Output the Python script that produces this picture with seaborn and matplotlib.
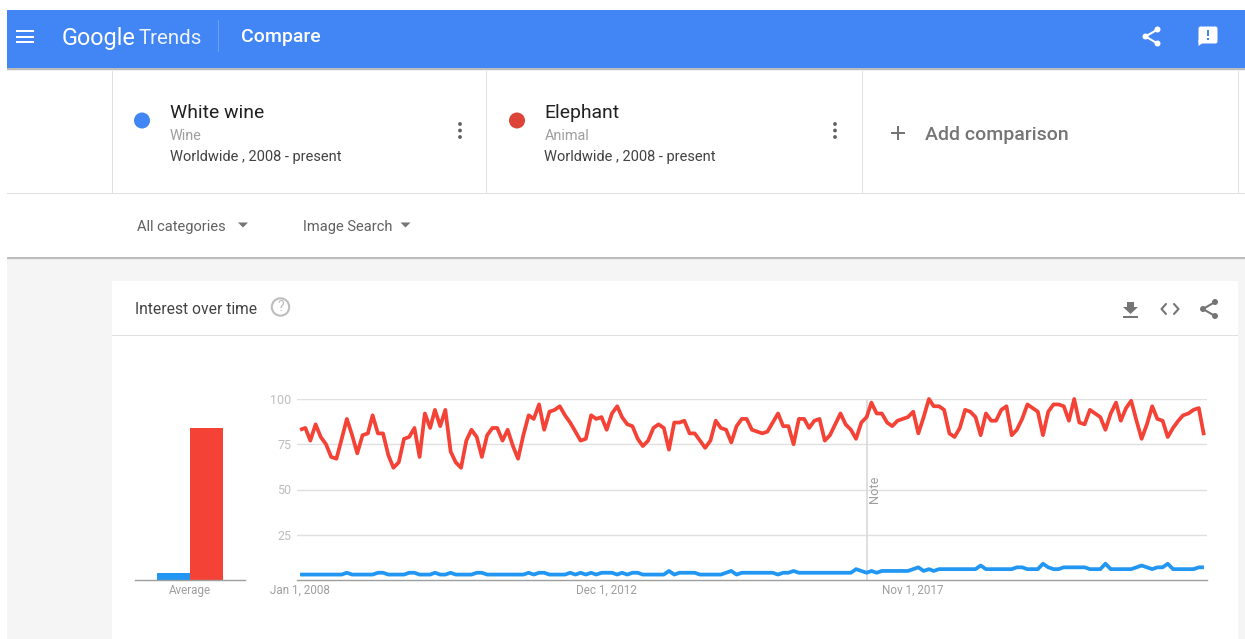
import pandas as pd
import matplotlib
matplotlib.use('Agg')
import matplotlib.pyplot as plt
import seaborn as sns
from matplotlib.patches import Circle, FancyBboxPatch, Polygon, Rectangle

TERMS = ['White wine', 'Elephant']
AVERAGES = [4, 84]
TICK_LABELS = ['Jan 1, 2008', 'Dec 1, 2012', 'Nov 1, 2017']
TICK_DATES = ['2008-01-01', '2012-12-01', '2017-11-01']
NOTE_DATE = '2017-02-01'

white_wine = [
    3, 3, 3, 3, 3, 3, 3, 3, 3, 4,
    3, 3, 3, 3, 3, 4, 4, 3, 3, 3,
    3, 4, 4, 3, 3, 3, 4, 3, 3, 4,
    3, 3, 3, 3, 4, 4, 3, 3, 3, 3,
    3, 3, 3, 3, 4, 3, 4, 4, 3, 3,
    3, 3, 4, 3, 4, 3, 4, 3, 4, 4,
    4, 3, 4, 3, 4, 4, 3, 3, 3, 3,
    3, 5, 3, 4, 4, 4, 4, 3, 3, 3,
    3, 3, 4, 5, 3, 4, 4, 4, 4, 4,
    4, 4, 3, 4, 4, 5, 4, 4, 4, 4,
    4, 4, 4, 4, 4, 4, 4, 6, 5, 4,
    5, 4, 5, 5, 5, 5, 5, 5, 6, 7,
    5, 6, 5, 6, 6, 6, 6, 6, 6, 6,
    6, 8, 6, 6, 6, 6, 6, 6, 7, 7,
    6, 6, 6, 9, 7, 6, 6, 7, 7, 7,
    7, 7, 6, 6, 6, 9, 6, 6, 6, 6,
    6, 7, 8, 7, 6, 7, 7, 9, 6, 6,
    6, 6, 6, 7, 7,
]
elephant = [
    83, 84, 77, 86, 79, 75, 68, 67, 78, 89,
    80, 70, 80, 81, 91, 81, 81, 69, 62, 65,
    78, 79, 84, 68, 92, 84, 94, 85, 94, 71,
    65, 62, 77, 83, 79, 68, 80, 84, 84, 77,
    83, 74, 67, 80, 91, 89, 97, 83, 93, 94,
    96, 91, 87, 82, 77, 78, 91, 89, 90, 83,
    92, 96, 90, 86, 85, 78, 74, 77, 84, 86,
    84, 72, 87, 87, 88, 81, 81, 77, 73, 77,
    88, 84, 83, 76, 85, 89, 89, 83, 82, 81,
    82, 87, 92, 85, 85, 75, 89, 89, 84, 88,
    89, 77, 80, 86, 92, 86, 83, 78, 87, 90,
    98, 92, 92, 87, 85, 88, 89, 90, 93, 81,
    90, 100, 96, 96, 94, 81, 79, 84, 94, 93,
    90, 80, 92, 88, 88, 94, 96, 80, 83, 89,
    97, 95, 93, 80, 93, 97, 97, 96, 88, 100,
    87, 86, 94, 92, 90, 83, 92, 98, 88, 95,
    99, 88, 78, 86, 96, 89, 88, 79, 84, 88,
    91, 92, 94, 95, 80,
]

W, H = 1245, 639
LINE_COLORS = {'White wine': '#2196f3', 'Elephant': '#f44336'}
HEADER = '#4285f4'
RULE = '#e0e0e0'

sns.set_style('white')
plt.rcParams['font.family'] = ['Roboto', 'DejaVu Sans']

fig = plt.figure(figsize=(W / 100, H / 100), dpi=100, facecolor='white')


def px_axes(left, top, right, bottom):
    return fig.add_axes([left / W, 1 - bottom / H, (right - left) / W, (bottom - top) / H])


# page furniture, drawn in pixel coordinates
page = fig.add_axes([0, 0, 1, 1], zorder=0)
page.set_xlim(0, W)
page.set_ylim(H, 0)
page.axis('off')


def rect(x0, y0, x1, y1, color, z=1):
    page.add_patch(Rectangle((x0, y0), x1 - x0, y1 - y0, facecolor=color, edgecolor='none', zorder=z))


def label(x, y, s, size, color, **kw):
    page.text(x, y + 1.5, s, fontsize=size * 0.72, color=color, va='center', zorder=5, **kw)


def share_icon(cx, cy, color):
    pts = [(cx + 6, cy - 7), (cx - 6, cy), (cx + 6, cy + 7)]
    page.plot([pts[0][0], pts[1][0], pts[2][0]], [pts[0][1], pts[1][1], pts[2][1]], color=color, lw=1.5, zorder=5)
    for p in pts:
        page.add_patch(Circle(p, 3, facecolor=color, edgecolor='none', zorder=5))


def kebab(x, color='#616161'):
    for y in (124, 130.5, 137):
        page.add_patch(Circle((x, y), 1.9, facecolor=color, edgecolor='none', zorder=5))


rect(7, 258, W, H, '#f5f5f5')
rect(7, 256.5, W, 258.5, '#bdbdbd')
rect(7, 258.5, W, 260, '#ececec')
rect(112, 281, 1238, H, 'white', 2)
rect(112, 335, 1238, 336, RULE, 3)

# header bar
rect(7, 68, W, 69.5, '#bdbdbd')
rect(7, 69.5, W, 71, '#eeeeee')
rect(7, 10, W, 68, HEADER, 2)
for y in (31, 36.5, 42):
    rect(16, y - 1, 34, y + 1, 'white', 3)
label(62, 37, 'Google', 23.5, 'white')
label(139, 37.5, 'Trends', 20.5, '#eef3fe')
rect(218, 20, 219, 52, '#6d9ff6', 3)
label(241, 35.5, 'Compare', 19.5, 'white', fontweight='medium')
share_icon(1151.5, 36.5, 'white')
page.add_patch(FancyBboxPatch((1200, 28), 16, 14, boxstyle='round,pad=1.5,rounding_size=2',
                              facecolor='white', edgecolor='none', zorder=5))
page.add_patch(Polygon([(1198.5, 40), (1198.5, 46), (1204, 42)], facecolor='white', edgecolor='none', zorder=5))
rect(1207, 30, 1209, 36, HEADER, 6)
rect(1207, 38, 1209, 40, HEADER, 6)

# comparison cards
rect(7, 193, W, 194, RULE)
for x in (112, 486, 862, 1238):
    rect(x, 71, x + 1, 193, RULE)
for x_dot, x_text, term, kind, dot, x_menu in [
    (142, 170, TERMS[0], 'Wine', '#4285f4', 460),
    (517, 545, TERMS[1], 'Animal', '#db4437', 835),
]:
    page.add_patch(Circle((x_dot, 120.5), 8, facecolor=dot, edgecolor='none', zorder=5))
    label(x_text - 0.5, 111, term, 19.4, '#212121')
    label(x_text - 0.5, 134, kind, 14.4, '#9e9e9e')
    label(x_text - 0.5, 156, 'Worldwide , 2008 - present', 14.6, '#424242')
    kebab(x_menu)
rect(891, 132.2, 905, 133.8, '#757575', 5)
rect(897.2, 126, 898.8, 140, '#757575', 5)
label(925, 133.5, 'Add comparison', 19.5, '#757575', fontweight='medium')

# filters
label(137, 225.5, 'All categories', 14.6, '#616161')
label(303, 225.5, 'Image Search', 14.6, '#616161')
for x in (243, 405.5):
    page.add_patch(Polygon([(x - 5, 222.5), (x + 5, 222.5), (x, 227.5)], facecolor='#757575', edgecolor='none', zorder=5))

# card title row
label(135, 308, 'Interest over time', 15.6, '#424242')
page.add_patch(Circle((280.5, 307), 8.7, facecolor='none', edgecolor='#bdbdbd', lw=1.5, zorder=5))
page.text(280.5, 307, '?', fontsize=10, color='#bdbdbd', ha='center', va='center', zorder=5)
page.add_patch(Polygon([(1127, 302), (1134, 302), (1134, 307), (1138, 307), (1130.5, 314), (1123, 307), (1127, 307)],
                       facecolor='#757575', edgecolor='none', zorder=5))
rect(1123, 316, 1138, 317.5, '#757575', 5)
page.plot([1166, 1161.5, 1166], [304, 309, 314], color='#757575', lw=1.5, zorder=5)
page.plot([1174, 1178.5, 1174], [304, 309, 314], color='#757575', lw=1.5, zorder=5)
share_icon(1209, 309, '#757575')

# average bars
avg_df = pd.DataFrame({'term': TERMS, 'average': AVERAGES})
ax_bar = px_axes(135, 399, 244.5, 580)
ax_bar.patch.set_alpha(0)
ax_bar.set_zorder(3)
sns.barplot(data=avg_df, x='term', y='average', hue='term', hue_order=TERMS, palette=LINE_COLORS,
            width=1, saturation=1, linewidth=0, legend=False, ax=ax_bar)
ax_bar.set_xlim(-1.167, 2.145)
ax_bar.set_ylim(0, 100)
ax_bar.set_xticks([0.5], ['Average'])
ax_bar.set_yticks([])
ax_bar.set_xlabel('')
ax_bar.set_ylabel('')
ax_bar.tick_params(axis='x', length=0, pad=2.8, labelsize=8.4, labelcolor='#9e9e9e')
sns.despine(ax=ax_bar, left=True)
ax_bar.spines['bottom'].set_color('#9e9e9e')
ax_bar.spines['bottom'].set_linewidth(1)

# interest over time
dates = pd.date_range('2008-01-01', periods=len(elephant), freq='MS')
trend = pd.DataFrame({'date': dates, 'White wine': white_wine, 'Elephant': elephant})
trend = trend.melt(id_vars='date', var_name='term', value_name='interest')

ax = px_axes(297, 399, 1207, 580)
ax.patch.set_alpha(0)
ax.set_zorder(3)
ax.axvline(pd.Timestamp(NOTE_DATE), color='#dcdcdc', lw=1.3, zorder=1)
sns.lineplot(data=trend, x='date', y='interest', hue='term', hue_order=TERMS, palette=LINE_COLORS,
             linewidth=2.7, legend=False, clip_on=False, zorder=3, solid_capstyle='butt', ax=ax)
ax.set_xlim(dates[0] - pd.Timedelta(days=18), dates[-1] + pd.Timedelta(days=18))
ax.set_ylim(0, 100)
ax.set_yticks([25, 50, 75, 100])
ax.set_xticks(pd.to_datetime(TICK_DATES), TICK_LABELS)
ax.grid(axis='y', color=RULE, lw=1, zorder=0)
ax.grid(axis='x', visible=False)
ax.set_axisbelow(True)
ax.set_xlabel('')
ax.set_ylabel('')
ax.tick_params(axis='x', length=0, pad=2.8, labelsize=8.4, labelcolor='#9e9e9e')
ax.tick_params(axis='y', length=0, pad=4, labelsize=9, labelcolor='#bdbdbd')
sns.despine(ax=ax, left=True)
ax.spines['bottom'].set_color('#9e9e9e')
ax.spines['bottom'].set_linewidth(1)
ax.annotate('Note', xy=(pd.Timestamp(NOTE_DATE), 50), xycoords=('data', 'data'), xytext=(7.5, 0),
            textcoords='offset pixels', rotation=90, ha='center', va='center', fontsize=9.2, color='#9e9e9e')

fig.savefig('out.png', dpi=100)
plt.close(fig)
